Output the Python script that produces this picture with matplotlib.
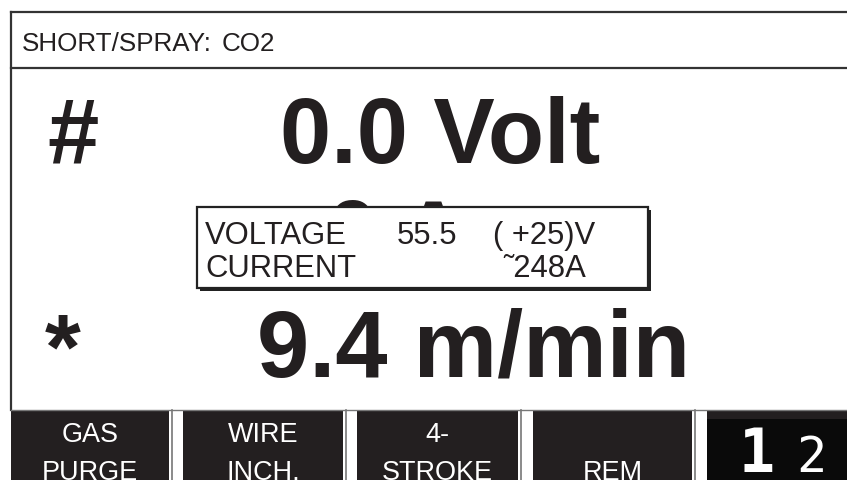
import matplotlib
matplotlib.use("Agg")
import matplotlib.pyplot as plt
from matplotlib.patches import Rectangle

# screen content
mode_label = "SHORT/SPRAY:"
gas_label = "CO2"
voltage_text = "0.0 Volt"
current_text = "0 A"
speed_text = "9.4 m/min"

popup_names = ["VOLTAGE", "CURRENT"]
popup_values = ["55.5", ""]
popup_extra = ["( +25)V", "\u02dc248A"]

button_line1 = ["GAS", "WIRE", "4-", "", ""]
button_line2 = ["PURGE", "INCH.", "STROKE", "REM", ""]
button_left = [11, 183, 357, 533, 707]
button_right = [169, 343, 518, 692, 847]

W, H = 847, 481
fig = plt.figure(figsize=(W / 100, H / 100), dpi=100)
ax = fig.add_axes([0, 0, 1, 1])
ax.set_xlim(0, W)
ax.set_ylim(H, 0)
ax.axis("off")

font = "Liberation Sans"
dark = "#231f20"
px = 0.72  # pixels -> points at 100 dpi

# frame lines
ax.plot([11, W], [13, 13], color="#333333", lw=1.6)
ax.plot([11, W], [69, 69], color="#333333", lw=1.6)
ax.plot([11, 11], [13, 411], color="#333333", lw=1.6)
ax.plot([11, W], [411, 411], color="#777777", lw=1.0)

# header
ax.text(22, 51, mode_label, fontsize=26 * px, family=font, color=dark, va="baseline")
ax.text(222, 51, gas_label, fontsize=26 * px, family=font, color=dark, va="baseline")

# big readouts
big = 92 * px
ax.text(47, 163, "#", fontsize=big, family=font, weight="bold", color=dark, va="baseline")
ax.text(280, 163, voltage_text, fontsize=big, family=font, weight="bold", color=dark, va="baseline")
ax.text(327, 265, current_text, fontsize=big, family=font, weight="bold", color=dark, va="baseline", zorder=1)
ax.text(45, 378, "*", fontsize=big, family=font, weight="bold", color=dark, va="baseline")
ax.text(257, 377, speed_text, fontsize=big * 1.02, family=font, weight="bold", color=dark, va="baseline")

# popup box with shadow
ax.add_patch(Rectangle((200, 211), 451, 81, facecolor="#222222", edgecolor="none", zorder=3))
ax.add_patch(Rectangle((197, 208), 451, 81, facecolor="white", edgecolor="#222222", lw=1.6, zorder=4))
baselines = [244, 277]
pop = 31 * px
for i in range(2):
    ax.text(205, baselines[i], popup_names[i], fontsize=pop, family=font, color=dark, va="baseline", zorder=5)
    ax.text(397, baselines[i], popup_values[i], fontsize=pop, family=font, color=dark, va="baseline", zorder=5)
ax.text(493, baselines[0], popup_extra[0], fontsize=pop, family=font, color=dark, va="baseline", zorder=5)
ax.text(586, baselines[1], popup_extra[1], fontsize=pop, family=font, color=dark, va="baseline", ha="right", zorder=5)

# soft buttons
for i in range(len(button_left)):
    x0, x1 = button_left[i], button_right[i]
    color = "#0a0a0a" if i == len(button_left) - 1 else dark
    ax.add_patch(Rectangle((x0, 412), x1 - x0, H - 412, facecolor=color, edgecolor="none"))
    if i < len(button_left) - 1:
        ax.plot([x1 + 3, x1 + 3], [411, H], color="#777777", lw=1.2)
    cx = (x0 + x1) / 2
    ax.text(cx, 442, button_line1[i], fontsize=27 * px, family=font, color="white", ha="center", va="baseline")
    ax.text(cx, 480, button_line2[i], fontsize=27 * px, family=font, color="white", ha="center", va="baseline")

# page indicator
ax.add_patch(Rectangle((707, 412), W - 707, 8, facecolor=dark, edgecolor="none"))
ax.text(738, 472, "1", fontsize=60 * px, family="DejaVu Sans Mono", weight="bold", color="white", va="baseline")
ax.text(796, 472, "2", fontsize=50 * px, family="DejaVu Sans Mono", color="white", va="baseline")

fig.savefig("out.png", dpi=100, facecolor="white")
